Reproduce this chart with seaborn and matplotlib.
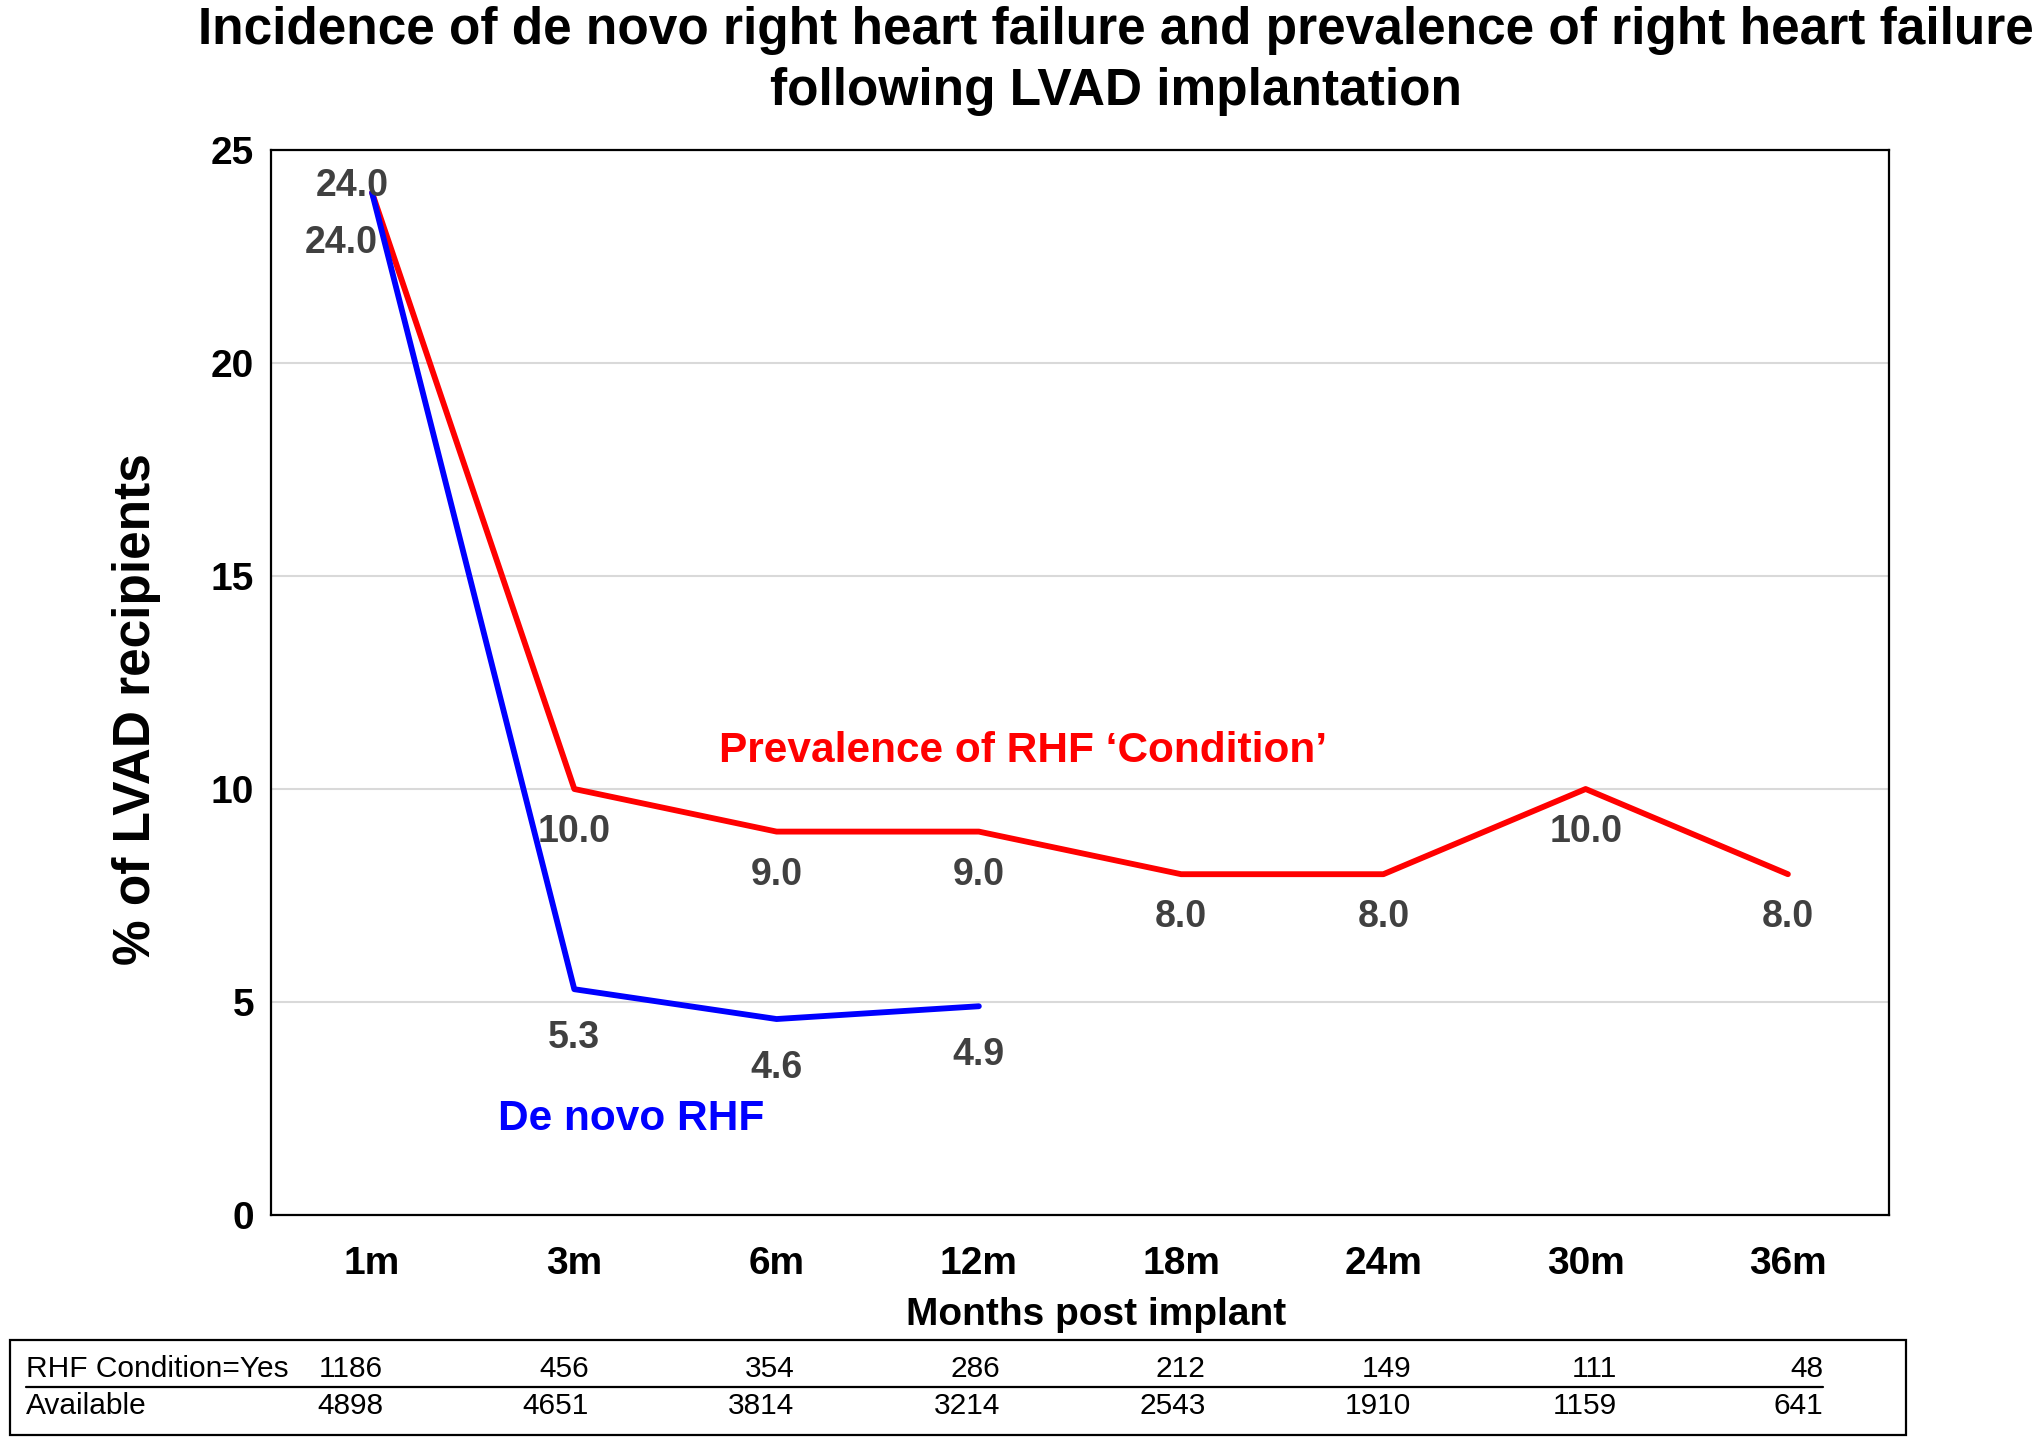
import numpy as np
import pandas as pd
import matplotlib
matplotlib.use("Agg")
import matplotlib.pyplot as plt
from matplotlib.lines import Line2D
from matplotlib.patches import Rectangle
import seaborn as sns

# Datos
months = ["1m", "3m", "6m", "12m", "18m", "24m", "30m", "36m"]
prevalence = [24.0, 10.0, 9.0, 9.0, 8.0, 8.0, 10.0, 8.0]
de_novo = [24.0, 5.3, 4.6, 4.9]
rhf_yes = [1186, 456, 354, 286, 212, 149, 111, 48]
available = [4898, 4651, 3814, 3214, 2543, 1910, 1159, 641]

sns.set_theme(style="white")
plt.rcParams["font.family"] = ["Liberation Sans", "DejaVu Sans"]
plt.rcParams["text.color"] = "black"
plt.rcParams["axes.labelcolor"] = "black"
plt.rcParams["xtick.color"] = "black"
plt.rcParams["ytick.color"] = "black"

prev_df = pd.DataFrame({"pos": np.arange(len(prevalence)), "value": prevalence})
novo_df = pd.DataFrame({"pos": np.arange(len(de_novo)), "value": de_novo})

fig = plt.figure(figsize=(20.4, 14.44), dpi=100)
ax = fig.add_axes([0.1328, 0.1586, 0.7932, 0.7375])

# Lineas
for df, color in [(prev_df, "#FF0000"), (novo_df, "#0000FF")]:
    sns.lineplot(data=df, x="pos", y="value", color=color, linewidth=4.2,
                 ax=ax, legend=False, solid_capstyle="round")

ax.set_xlim(-0.5, len(months) - 0.5)
ax.set_ylim(0, 25)
ax.set_yticks([0, 5, 10, 15, 20, 25])
ax.set_xticks(np.arange(len(months)))
ax.set_xticklabels(months)
ax.tick_params(axis="x", labelsize=28, pad=22, length=0)
ax.tick_params(axis="y", labelsize=28, pad=12, length=0)
for lab in ax.get_xticklabels() + ax.get_yticklabels():
    lab.set_fontweight("bold")
ax.yaxis.grid(True, color="#D9D9D9", linewidth=1.5)
ax.set_axisbelow(True)
for sp in ax.spines.values():
    sp.set_color("black")
    sp.set_linewidth(1.6)

ax.set_ylabel("% of LVAD recipients", fontsize=37, fontweight="bold")
ax.yaxis.set_label_coords(-0.083, 0.475)
ax.yaxis.label.set_va("center")
ax.set_xlabel("Months post implant", fontsize=28, fontweight="bold")
ax.xaxis.set_label_coords(0.51, -0.094)
ax.xaxis.label.set_va("center")

# Etiquetas de datos
lab_kw = dict(textcoords="offset points", ha="center", va="center",
              fontsize=27, fontweight="bold", color="#404040")
for i, v in enumerate(prevalence):
    off = (-14, 5) if i == 0 else (0, -31)
    ax.annotate(f"{v:.1f}", (i, v), xytext=off, **lab_kw)
for i, v in enumerate(de_novo):
    off = (-22, -36) if i == 0 else (0, -35)
    ax.annotate(f"{v:.1f}", (i, v), xytext=off, **lab_kw)

ax.text(3.22, 10.9, "Prevalence of RHF \u2018Condition\u2019", color="#FF0000",
        fontsize=30.5, fontweight="bold", ha="center", va="center")
ax.text(1.28, 2.25, "De novo RHF", color="#0000FF",
        fontsize=30.5, fontweight="bold", ha="center", va="center")

fig.text(0.547, 0.996, "Incidence of de novo right heart failure and prevalence of right heart failure\nfollowing LVAD implantation",
         ha="center", va="top", fontsize=37, fontweight="bold", linespacing=1.33)

# Tabla inferior
fig.patches.append(Rectangle((10 / 2040, 1 - 1435 / 1444), 1896 / 2040, 95 / 1444,
                             transform=fig.transFigure, fill=False,
                             edgecolor="black", linewidth=1.6))
fig.lines.append(Line2D([26 / 2040, 1823 / 2040], [0.0395, 0.0395],
                        transform=fig.transFigure, color="black", linewidth=1.6))
fig.text(26 / 2040, 0.0516, "RHF Condition=Yes", fontsize=21.5, ha="left", va="center")
fig.text(26 / 2040, 0.0263, "Available", fontsize=21.5, ha="left", va="center")
for i, (a, b) in enumerate(zip(rhf_yes, available)):
    xr = (383 + i * 205.7) / 2040
    fig.text(xr, 0.0516, str(a), fontsize=21.5, ha="right", va="center")
    fig.text(xr, 0.0263, str(b), fontsize=21.5, ha="right", va="center")

fig.savefig("out.png", dpi=100)
